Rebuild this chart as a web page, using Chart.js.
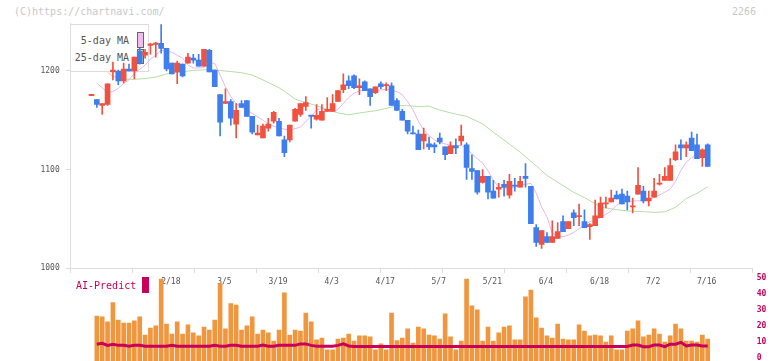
<!DOCTYPE html>
<html><head><meta charset="utf-8">
<script src="https://cdn.jsdelivr.net/npm/chart.js@4.4.1/dist/chart.umd.min.js"></script>
<style>
html,body{margin:0;padding:0;background:#fff;width:772px;height:361px;overflow:hidden;}
#wrap{position:relative;width:772px;height:361px;}
canvas{position:absolute;left:0;}
#c1{top:0;z-index:2;}
#c2{top:268px;z-index:3;}
.t{position:absolute;font-family:"DejaVu Sans Mono",monospace;font-size:10px;white-space:nowrap;line-height:10px;}
</style></head>
<body><div id="wrap">
<div class="t" style="left:14px;top:7px;color:#c8c8c8;z-index:0">(C)https://chartnavi.com/</div>
<div class="t" style="left:732px;top:7px;color:#c8c8c8;z-index:0">2266</div>
<div id="legend" style="position:absolute;left:70px;top:24px;width:79px;height:48px;border:1px solid #dcdcdc;box-sizing:border-box;background:#fff;z-index:1">
  <div class="t" style="right:19px;top:11px;color:#555">5-day MA</div>
  <div style="position:absolute;left:66px;top:7px;width:7px;height:16px;box-sizing:border-box;border:1px solid #666;background:#eebcee"></div>
  <div class="t" style="right:19px;top:28px;color:#555">25-day MA</div>
  <div style="position:absolute;left:66px;top:24px;width:7px;height:15px;box-sizing:border-box;border:1px solid #666;background:#b6dca6"></div>
</div>
<div class="t" style="left:76px;top:281px;color:#c8005a;z-index:4">AI-Predict</div>
<div style="position:absolute;left:142px;top:277px;width:7px;height:16px;background:#c8005a;z-index:4"></div>
<canvas id="c1" width="772" height="300"></canvas>
<canvas id="c2" width="772" height="93"></canvas>
</div>
<script>
// ---- data ----
const opens  = [1175,1171,1165,1166,1199,1200,1190,1202,1200,1220,1216,1226,1227,1228,1223,1208,1199,1207,1208,1213,1211,1205,1221,1201,1176,1167,1169,1146,1167,1170,1154,1135,1132,1142,1149,1149,1130,1130,1149,1156,1164,1155,1151,1150,1159,1159,1169,1181,1190,1195,1183,1189,1182,1178,1187,1185,1185,1170,1159,1150,1137,1136,1129,1126,1125,1132,1123,1116,1124,1129,1125,1101,1099,1087,1093,1078,1080,1085,1074,1084,1082,1093,1083,1041,1024,1032,1026,1030,1047,1040,1056,1052,1047,1042,1043,1051,1065,1067,1074,1075,1073,1062,1075,1078,1068,1072,1085,1089,1089,1110,1125,1122,1132,1125,1112,1125];
const highs  = [1175,1171,1167,1187,1209,1201,1208,1207,1214,1223,1222,1228,1229,1247,1223,1208,1210,1207,1218,1217,1217,1222,1222,1201,1176,1182,1171,1167,1170,1170,1154,1145,1146,1152,1159,1152,1134,1145,1162,1167,1174,1155,1166,1166,1173,1176,1180,1197,1195,1196,1192,1190,1182,1184,1189,1188,1188,1172,1161,1150,1144,1140,1142,1133,1127,1137,1123,1128,1131,1145,1127,1115,1099,1100,1093,1089,1086,1089,1095,1091,1093,1106,1083,1044,1038,1036,1048,1046,1053,1047,1059,1065,1059,1045,1069,1072,1072,1079,1078,1080,1078,1071,1102,1083,1078,1091,1095,1102,1111,1125,1130,1128,1138,1136,1121,1126];
const lows   = [1175,1163,1156,1165,1191,1186,1188,1200,1192,1207,1213,1217,1214,1218,1200,1197,1187,1194,1208,1208,1205,1205,1199,1184,1134,1167,1145,1132,1163,1154,1136,1135,1132,1139,1147,1134,1113,1128,1149,1154,1160,1142,1150,1150,1159,1159,1169,1178,1182,1182,1176,1180,1165,1177,1182,1180,1165,1160,1150,1136,1136,1120,1121,1120,1117,1126,1110,1116,1116,1125,1090,1090,1075,1086,1070,1071,1072,1073,1071,1078,1082,1082,1045,1022,1020,1026,1026,1030,1037,1040,1043,1043,1041,1029,1043,1051,1061,1067,1070,1065,1059,1056,1075,1066,1063,1072,1084,1089,1089,1109,1110,1113,1119,1111,1103,1103];
const closes = [1175,1166,1167,1187,1201,1190,1202,1200,1214,1208,1219,1226.5,1228,1223,1202,1197,1208,1195,1214,1211,1205,1222,1199,1184,1148,1169,1152,1160,1163,1154,1138,1137,1144,1146,1158,1134,1117,1145,1161,1167,1168,1154,1155,1159,1161,1167,1180,1186,1185,1183,1185,1180,1174,1184,1184,1185,1165,1160,1150,1139,1136,1120,1136,1123,1123,1128,1115,1124,1122,1134,1102,1098,1077,1093,1077,1071,1082,1082,1088,1083,1088,1091,1045,1026,1038,1026,1032,1037,1037,1047,1051,1052,1041,1044,1053,1066,1066,1071,1070,1065,1067,1062,1084,1068,1071,1078,1085,1093,1104,1118,1122,1125,1119,1111,1120,1103];

const volumes = [null,28.2,27.6,24.5,36.6,25.7,23.8,23.8,25.1,27.6,16.3,20.7,22,51.4,23.2,16.9,24.5,16.9,22.6,17.6,15.7,21.3,19.4,25.7,48.5,20.1,36,35.1,19.4,22,27.6,16.9,19.4,17.6,12.5,19.4,42.7,16.3,19.4,18.8,30.1,24.5,13.2,14.4,7,7,13.8,14.4,16.9,12.5,15.7,15.7,15.1,7,10.7,7,30.1,12.8,14.4,20.1,11.3,21.3,20.1,16.3,15.7,13.8,29.5,15.1,7,12.5,51.4,34.5,32,12.5,21.3,12.5,17.6,21.3,22,13.2,13.2,40.2,44.5,27,20.7,15.7,14.4,23.2,13.8,13.2,13.2,22.6,18.8,15.7,16.3,15.7,11.9,15.7,7,7,18.8,20.1,25.1,15.1,16.3,20.1,16.9,11.9,15.7,23.2,20.1,12.5,12.5,11.9,16.3,13.8];

const aiPred = [null,10.5,11.1,9.8,10.5,9.8,9.8,9.2,9.8,9.8,9.2,9.2,9.2,9.2,9.2,9.8,9.2,9.2,9.2,9.2,9.2,9.2,9.2,9.8,9.2,9.2,9.8,9.8,9.2,9.2,9.2,9.2,10.0,9.2,9.2,9.8,9.8,9.8,9.8,10.7,10.7,9.8,9.2,9.2,9.2,9.2,9.8,10.7,9.4,
  9.1,9.1,9.1,9.1,9.1,9.1,9.1,9.1,9.1,9.1,9.1,9.1,9.1,9.1,9.1,9.1,9.1,9.1,9.1,9.1,9.1,9.1,9.1,9.1,9.1,9.1,
  9.1,9.1,9.1,9.1,9.1,9.1,9.1,9.1,9.1,9.1,9.1,9.1,9.1,9.1,9.1,9.1,9.1,9.1,9.1,9.1,9.1,9.1,9.1,9.1,9.1,9.1,
  10.0,10.0,9.0,9.0,10.0,10.0,9.0,10.5,10.5,11.7,9.4,10.0,10.0,9.4,9.4];

const ma5Idx = [1,2,3,4,5,6,7,8,10,11,12,13,15,16,17,18,19,21,22,23,24,25,26,27,29,30,32,33,35,37,38,39,41,42,43,45,46,48,49,50,51,53,55,57,58,59,60,61,62,63,64,65,67,68,69,70,71,72,73,74,75,76,78,79,80,82,83,84,85,86,87,88,89,90,91,93,95,97,98,99,101,103,105,106,108,109,110,111,112,114,115];
const ma5Val = [1187.5,1183,1178,1179,1182.4,1187.5,1191,1197.5,1206,1212,1216,1221,1219,1216,1213,1206,1203,1203.4,1208,1207.8,1196,1184,1174,1167,1160,1157,1150,1146,1142,1140,1141.5,1143,1154,1160.4,1162,1159,1161,1173,1177.5,1179.7,1180.7,1180,1181.5,1179,1176,1169,1160.5,1149,1140,1134.5,1130,1127.5,1124.5,1124,1124.5,1121,1116,1111,1106.5,1098.5,1089,1082,1081,1082,1084,1086,1076,1062,1052,1035.5,1031.8,1031.8,1033.5,1036,1040,1047,1051,1058,1064,1067,1068,1068.3,1071.5,1074,1080,1088,1099,1107.5,1112,1117,1118.5];
const ma25Idx = [3,4,6,8,10,12,14,16,17,19,21,22,24,26,28,30,31,33,35,36,38,39,40,42,44,46,48,49,51,53,55,57,59,61,63,65,68,70,73,75,78,80,83,85,88,90,92,95,97,100,103,105,107,109,111,113,115];
const ma25Val = [1198.5,1194.5,1191.6,1191.6,1192.2,1193.8,1197,1198.6,1199.2,1200.5,1201.2,1201.6,1200.5,1199.4,1198.3,1195.8,1193.5,1188.3,1183,1179.5,1171.5,1169.6,1168.1,1164.8,1161,1157.4,1155.5,1156.5,1158.2,1159.6,1162,1164.8,1164.8,1163.9,1164.3,1160.3,1156.2,1154,1146.4,1137.8,1125.8,1117.6,1103.6,1094,1083.6,1076.8,1071.6,1062,1060,1057.9,1057.2,1056.5,1057,1061.6,1070.6,1075.8,1082.5];

const labelIdx   = [15,25,35,45,55,65,75,85,95,105,115];
const dateLabels = ['2/18','3/5','3/19','4/3','4/17','5/7','5/21','6/4','6/18','7/2','7/16'];
const priceTicks = [1000,1100,1200];
const volTicks   = [0,10,20,30,40,50];

// ---- styling / layout ----
const UP = '#f0523f', DOWN = '#3e7eee';
const XMIN = -3.88, XMAX = 123.4;
const GRIDN = 11;
const AXIS = '#dcdcdc';
Chart.defaults.font.family = "'DejaVu Sans Mono', monospace";
Chart.defaults.animation = false;

const idx = opens.map((_, i) => i);
const candleColors = idx.map(i => closes[i] >= opens[i] ? UP : DOWN);

new Chart(document.getElementById('c1'), {
  type: 'bar',
  data: { datasets: [
    { type:'line', label:'25-day MA', data: ma25Idx.map((x,k)=>({x, y:ma25Val[k]})),
      borderColor:'#b6dea6', borderWidth:1, pointRadius:0, tension:0, order:4 },
    { type:'line', label:'5-day MA', data: ma5Idx.map((x,k)=>({x, y:ma5Val[k]})),
      borderColor:'#e8b6ec', borderWidth:1, pointRadius:0, tension:0, order:3 },
    { label:'wick', data: idx.map(i=>({x:i, y:[lows[i], highs[i]]})),
      backgroundColor:candleColors, barThickness:1, grouped:false, order:2 },
    { label:'body', data: idx.map(i=>({x:i, y:[opens[i], closes[i]]})),
      backgroundColor:candleColors, barThickness:5, minBarLength:1.2, grouped:false, order:1 }
  ]},
  options: {
    responsive:false, devicePixelRatio:1, events:[],
    layout:{ padding:{ left:0, right:19.3, top:23.7, bottom:0 } },
    plugins:{ legend:{display:false}, tooltip:{enabled:false} },
    scales:{
      x:{ type:'linear', min:XMIN, max:XMAX, offset:false,
        grid:{ offset:false, drawOnChartArea:false, tickLength:5, color:AXIS,
               tickColor: ctx => (ctx.tick && ctx.tick.lab) ? 'rgba(0,0,0,0)' : AXIS },
        border:{ color:AXIS },
        ticks:{ autoSkip:false, maxRotation:0, minRotation:0, color:'#555', font:{size:8}, padding:4, labelOffset:-1,
                callback:(v,i,t)=> (t[i] && t[i].lab) ? t[i].text : '' },
        afterBuildTicks: s => {
          const t = [];
          const step = (XMAX - XMIN) / GRIDN;
          for (let k = 0; k <= GRIDN; k++) t.push({ value: XMIN + k*step });
          labelIdx.forEach((v,k) => t.push({ value: v, lab: true, text: dateLabels[k] }));
          t.sort((a,b) => a.value - b.value);
          s.ticks = t;
        },
        afterFit: s => { s.height = 32; s.paddingLeft = 0; s.paddingRight = 0; }
      },
      y:{ min:1000, max:1248,
        grid:{ drawOnChartArea:false, tickLength:5, color:AXIS },
        border:{ color:AXIS },
        ticks:{ color:'#555', font:{size:8}, padding:6, callback: v => String(v) },
        afterBuildTicks: s => { s.ticks = priceTicks.map(v => ({value:v})); },
        afterFit: s => { s.width = 70.7; s.paddingTop = 0; s.paddingBottom = 0; }
      }
    }
  }
});

new Chart(document.getElementById('c2'), {
  type: 'bar',
  data: { datasets: [
    { type:'line', label:'AI-Predict', data: aiPred.map((v,i)=>({x:i, y:v})).filter(p=>p.y!==null),
      borderColor:'#c8005a', borderWidth:3, pointRadius:0, tension:0, order:1 },
    { label:'volume', data: volumes.map((v,i)=>({x:i, y:v})).filter(p=>p.y!==null),
      backgroundColor:'#f0963e', barThickness:4, order:2 }
  ]},
  options: {
    responsive:false, devicePixelRatio:1, events:[],
    layout:{ padding:{ left:70.7, right:0, top:10, bottom:0 } },
    plugins:{ legend:{display:false}, tooltip:{enabled:false} },
    scales:{
      x:{ type:'linear', min:XMIN, max:XMAX, offset:false, display:false, grid:{offset:false} },
      y:{ position:'right', min:0, max:52,
        grid:{ display:false, drawTicks:false, tickLength:0 }, border:{ display:false },
        ticks:{ color:'#c8005a', font:{size:8, weight:'bold'}, padding:4, labelOffset:-3.5, callback: v => String(v) },
        afterBuildTicks: s => { s.ticks = volTicks.map(v => ({value:v})); },
        afterFit: s => { s.width = 19.3; s.paddingTop = 0; s.paddingBottom = 0; }
      }
    }
  }
});
</script>
</body></html>
